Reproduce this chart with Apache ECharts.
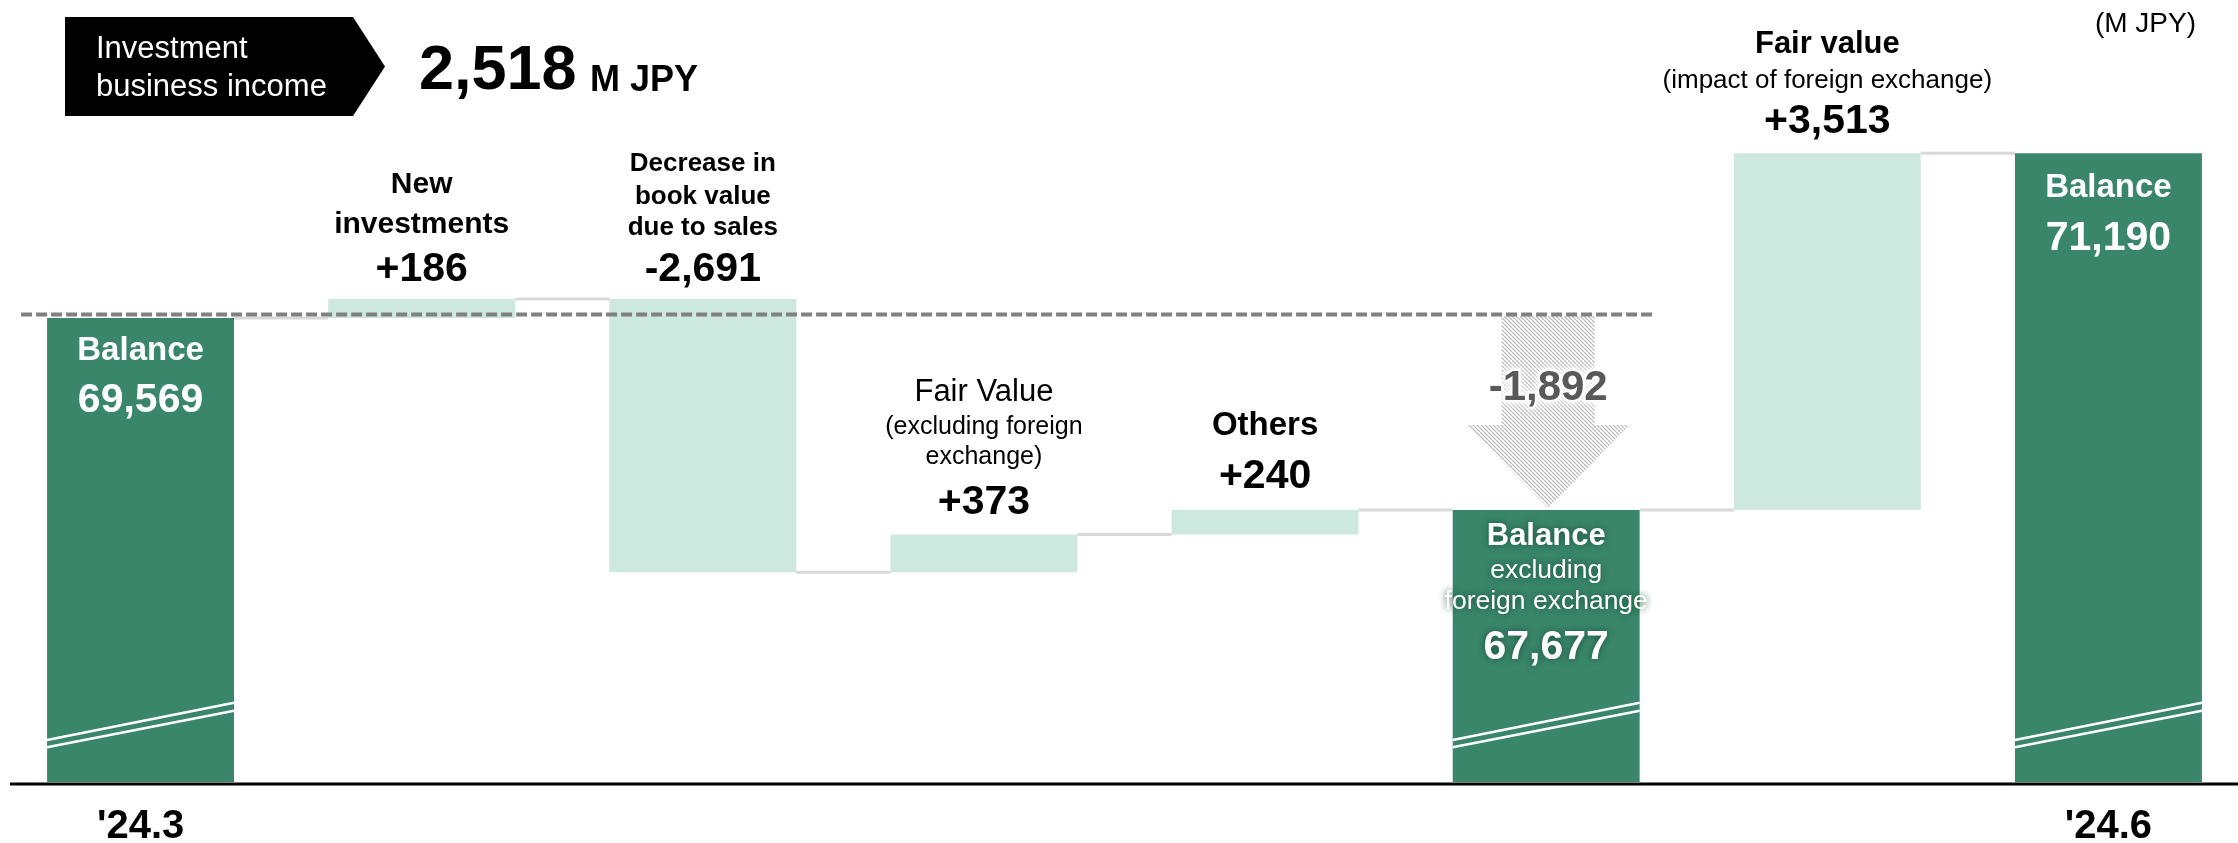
<!DOCTYPE html>
<html>
<head>
<meta charset="utf-8">
<script src="https://cdn.jsdelivr.net/npm/echarts@6/dist/echarts.min.js"></script>
<style>
  html, body { margin: 0; padding: 0; background: #ffffff; }
  #chart { width: 2238px; height: 843px; }
</style>
</head>
<body>
<div id="chart"></div>
<script>
// ---- data ----
const categories = ["'24.3", 'New investments', 'Decrease in book value due to sales',
  'Fair Value (excluding foreign exchange)', 'Others', 'Balance excluding foreign exchange',
  'Fair value (impact of foreign exchange)', "'24.6"];
const tickLabels = ["'24.3", '', '', '', '', '', '', "'24.6"];
const balances = [69569, null, null, null, null, 67677, null, 71190];
const changes = [null, 186, -2691, 373, 240, null, 3513, null];
const stepTitles = [null, ['New', 'investments'], ['Decrease in', 'book value', 'due to sales'],
  ['Fair Value', '(excluding foreign', 'exchange)'], ['Others'], null,
  ['Fair value', '(impact of foreign exchange)'], null];
const balanceTitles = [['Balance'], null, null, null, null, ['Balance', 'excluding', 'foreign exchange'], null, ['Balance']];
const investmentIncome = 2518;
const unitLabel = 'M JPY';
const headerLines = ['Investment', 'business income'];
const Y_MIN = 65000, Y_MAX = 72000;

// ---- waterfall build ----
const baseVals = [], stepVals = [], balVals = [], tops = [], ends = [];
let level = 0;
categories.forEach((c, i) => {
  if (balances[i] != null) {
    level = balances[i];
    baseVals.push('-'); stepVals.push('-'); balVals.push(level); tops.push(level);
  } else {
    const next = level + changes[i];
    baseVals.push(Math.min(level, next)); stepVals.push(Math.abs(changes[i]));
    balVals.push('-'); tops.push(Math.max(level, next));
    level = next;
  }
  ends.push(level);
});
const connectorData = ends.slice(0, -1).map((v, i) => [i, v]);
const fxFrom = 0, fxTo = 5; // balance before / after, both excluding exchange effects
const fxDiff = balances[fxTo] - balances[fxFrom];

// ---- styling helpers ----
const FF = '"Liberation Sans", Arial, Helvetica, sans-serif';
const DARK = '#3a866a', LIGHT = '#cde8df';
const BAR_RATIO = 0.665;
const MID = 0.23; // baseline-to-middle factor
const font = (w, s) => `${w} ${s}px ${FF}`;
const fmt = v => v.toLocaleString('en-US');
const signed = v => (v > 0 ? '+' : '') + fmt(v);

function textAt(x, baseline, str, size, weight, fill, extra) {
  return {
    type: 'text', x: x, y: baseline - MID * size,
    style: Object.assign({ text: str, font: font(weight, size), fill: fill, align: 'center', verticalAlign: 'middle' }, extra || {})
  };
}

// baseline offsets (px) relative to the top of each bar
const stepLayout = {
  1: { lines: [[-107, 30, 'bold'], [-67, 30, 'bold']], value: -20 },
  2: { lines: [[-129, 26, 'bold'], [-96, 26, 'bold'], [-65, 26, 'bold']], value: -20 },
  3: { lines: [[-135, 31, 'normal'], [-102, 25, 'normal'], [-72, 25, 'normal']], value: -22 },
  4: { lines: [[-77, 33, 'bold']], value: -24 },
  6: { lines: [[-102, 31, 'bold'], [-66, 26, 'normal']], value: -22 }
};
const balanceLayout = {
  0: { lines: [[41, 33, 'bold']], value: 92 },
  5: { lines: [[33, 31, 'bold'], [67, 26.5, 'normal'], [98, 26.5, 'normal']], value: 147, glow: true },
  7: { lines: [[42, 33, 'bold']], value: 95 }
};

function hatchPattern() {
  const p = 4, c = document.createElement('canvas');
  c.width = p; c.height = p;
  const g = c.getContext('2d');
  g.fillStyle = '#ffffff'; g.fillRect(0, 0, p, p);
  g.strokeStyle = '#bdbdbd'; g.lineWidth = 1.25;
  for (let k = -1; k <= 1; k++) { g.beginPath(); g.moveTo(k * p, 0); g.lineTo(k * p + p, p); g.stroke(); }
  return c;
}
const hatch = hatchPattern();

const chart = echarts.init(document.getElementById('chart'), null, { renderer: 'canvas' });

const gText = (x, baseline, str, size, weight, fill, align) => ({
  type: 'text', x: x, y: baseline - MID * size,
  style: { text: str, font: font(weight, size), fill: fill, align: align || 'left', verticalAlign: 'middle' }
});

chart.setOption({
  animation: false,
  backgroundColor: '#ffffff',
  textStyle: { fontFamily: FF },
  grid: { left: 0, right: -11, top: 71, bottom: 61, outerBoundsMode: 'none' },
  xAxis: {
    type: 'category', data: categories,
    axisLine: { show: false }, axisTick: { show: false }, splitLine: { show: false },
    axisLabel: { interval: 0, formatter: (v, i) => tickLabels[i], fontSize: 40, fontWeight: 'bold', color: '#000', margin: 25, fontFamily: FF }
  },
  yAxis: { type: 'value', min: Y_MIN, max: Y_MAX, show: false },
  graphic: [
    { type: 'polygon', shape: { points: [[65, 17], [353, 17], [385, 66.5], [353, 116], [65, 116]] }, style: { fill: '#000' } },
    gText(96, 57, headerLines[0], 31, 'normal', '#fff'),
    gText(96, 95, headerLines[1], 31, 'normal', '#fff'),
    gText(419, 86, fmt(investmentIncome), 63, 'bold', '#000'),
    gText(590, 89, unitLabel, 36, 'bold', '#000'),
    gText(2196, 31, '(' + unitLabel + ')', 28, 'normal', '#000', 'right'),
    { type: 'line', shape: { x1: 10, y1: 784, x2: 2238, y2: 784 }, style: { stroke: '#000', lineWidth: 3 }, z: 10 }
  ],
  series: [
    { type: 'bar', stack: 'w', data: baseVals, barWidth: (BAR_RATIO * 100) + '%', itemStyle: { color: 'transparent' }, silent: true, clip: true, z: 2 },
    { type: 'bar', stack: 'w', data: stepVals, barWidth: (BAR_RATIO * 100) + '%', itemStyle: { color: LIGHT }, silent: true, clip: true, z: 2 },
    { type: 'bar', stack: 'w', data: balVals, barWidth: (BAR_RATIO * 100) + '%', itemStyle: { color: DARK }, silent: true, clip: true, z: 2 },
    // connectors between consecutive bars
    {
      type: 'custom', data: connectorData, z: 1, silent: true,
      renderItem(params, api) {
        const i = api.value(0), v = api.value(1);
        const bw = api.size([1, 0])[0] * BAR_RATIO;
        const p0 = api.coord([i, v]), p1 = api.coord([i + 1, v]);
        return { type: 'line', shape: { x1: p0[0] + bw / 2, y1: p0[1], x2: p1[0] - bw / 2, y2: p0[1] }, style: { stroke: '#d9d9d9', lineWidth: 3 } };
      }
    },
    // opening balance reference line
    {
      type: 'custom', data: [[fxFrom, fxTo, balances[fxFrom]]], encode: { x: 0, y: 2 }, z: 5, silent: true,
      renderItem(params, api) {
        const band = api.size([1, 0])[0];
        const a = api.coord([api.value(0), api.value(2)]), b = api.coord([api.value(1), api.value(2)]);
        const y = a[1] - 3.5;
        return { type: 'line', shape: { x1: a[0] - band * 0.425, y1: y, x2: b[0] + band * 0.39, y2: y },
          style: { stroke: '#808080', lineWidth: 4, lineDash: [11, 4] } };
      }
    },
    // exchange-excluded change arrow
    {
      type: 'custom', data: [[fxTo, balances[fxFrom], balances[fxTo]]], encode: { x: 0, y: [1, 2] }, z: 4, silent: true,
      renderItem(params, api) {
        const bw = api.size([1, 0])[0] * BAR_RATIO;
        const a = api.coord([api.value(0), api.value(1)]), b = api.coord([api.value(0), api.value(2)]);
        const cx = a[0] + 2, y0 = a[1] - 2, y1 = b[1] - 2;
        const yh = y0 + 0.568 * (y1 - y0);
        const sh = bw * 0.249, hh = bw * 0.436;
        return {
          type: 'group', children: [
            { type: 'polygon', shape: { points: [[cx - sh, y0], [cx + sh, y0], [cx + sh, yh], [cx + hh, yh], [cx, y1], [cx - hh, yh], [cx - sh, yh]] },
              style: { fill: { image: hatch, repeat: 'repeat' } } },
            textAt(cx, y0 + 0.427 * (y1 - y0), fmt(fxDiff), 42, 'bold', '#595959',
              { stroke: 'rgba(255,255,255,0.85)', lineWidth: 5, textShadowColor: '#ffffff', textShadowBlur: 10 })
          ]
        };
      }
    },
    // axis-break marks on balance bars
    {
      type: 'custom', data: balances.map((b, i) => b != null ? [i, Y_MIN] : null).filter(Boolean), z: 6, silent: true,
      renderItem(params, api) {
        const bw = api.size([1, 0])[0] * BAR_RATIO;
        const p = api.coord([api.value(0), api.value(1)]);
        const l = p[0] - bw / 2, r = p[0] + bw / 2, y = p[1];
        const st = { stroke: '#ffffff', lineWidth: 2.6 };
        return { type: 'group', children: [
          { type: 'line', shape: { x1: l, y1: y - 42, x2: r, y2: y - 79.3 }, style: st },
          { type: 'line', shape: { x1: l, y1: y - 34.7, x2: r, y2: y - 71.3 }, style: st }
        ] };
      }
    },
    // titles and values
    {
      type: 'custom', data: tops.map((t, i) => [i, t]), z: 8, silent: true,
      renderItem(params, api) {
        const i = api.value(0);
        const p = api.coord([i, api.value(1)]);
        const cx = p[0], ty = p[1];
        const els = [];
        if (balances[i] != null) {
          const L = balanceLayout[i];
          const extra = L.glow ? { textShadowColor: 'rgba(22,78,54,0.95)', textShadowBlur: 7 } : {};
          balanceTitles[i].forEach((t, k) => els.push(textAt(cx, ty + L.lines[k][0], t, L.lines[k][1], L.lines[k][2], '#ffffff', extra)));
          els.push(textAt(cx, ty + L.value, fmt(balances[i]), 41, 'bold', '#ffffff', extra));
        } else {
          const L = stepLayout[i];
          stepTitles[i].forEach((t, k) => els.push(textAt(cx, ty + L.lines[k][0], t, L.lines[k][1], L.lines[k][2], '#000000')));
          els.push(textAt(cx, ty + L.value, signed(changes[i]), 41, 'bold', '#000000'));
        }
        return { type: 'group', children: els };
      }
    }
  ]
});
</script>
</body>
</html>
